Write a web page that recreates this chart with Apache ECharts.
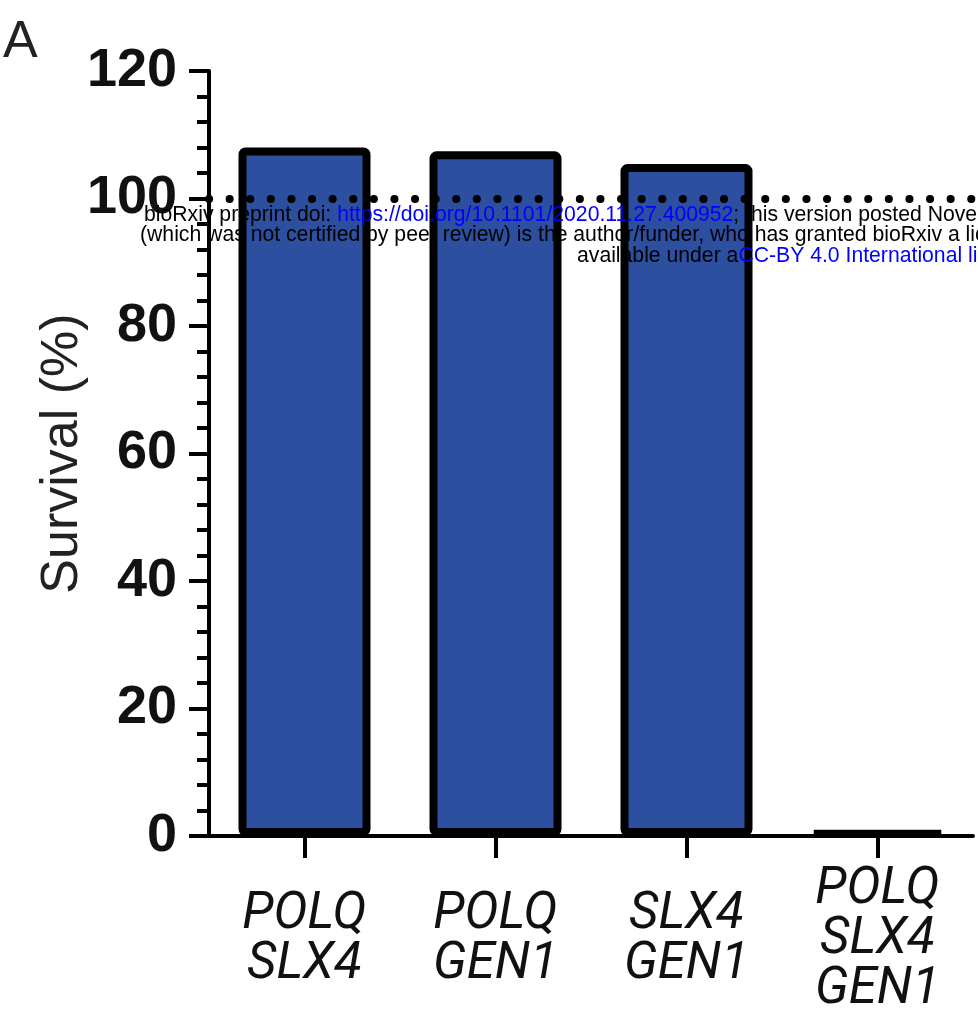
<!DOCTYPE html>
<html>
<head>
<meta charset="utf-8">
<script src="https://cdn.jsdelivr.net/npm/echarts@6/dist/echarts.min.js"></script>
<style>
html,body{margin:0;padding:0;background:#fff;}
#chart{width:978px;height:1011px;}
</style>
</head>
<body>
<div id="chart"></div>
<script>
const categories = ['POLQ\nSLX4', 'POLQ\nGEN1', 'SLX4\nGEN1', 'POLQ\nSLX4\nGEN1'];
const survival = [108.0, 107.4, 105.4, 0.7];
const referenceLevel = 100;
const yMin = 0, yMax = 120, yStep = 20;
const yTitle = 'Survival (%)';
const panelLetter = 'A';
const wmLine1 = ['bioRxiv preprint doi: ', 'https://doi.org/10.1101/2020.11.27.400952', '; this version posted November 28, 2020. The copyright holder for this preprint'];
const wmLine2 = '(which was not certified by peer review) is the author/funder, who has granted bioRxiv a license to display the preprint in perpetuity. It is made';
const wmLine3 = ['available under a', 'CC-BY 4.0 International license', '.'];

const chart = echarts.init(document.getElementById('chart'), null, {renderer: 'canvas'});
const FONT = '"Liberation Sans", Arial, sans-serif';
const wmFont = 21.2;

chart.setOption({
  animation: false,
  backgroundColor: '#fff',
  grid: {left: 209, right: 5, top: 71, bottom: 175, containLabel: false, outerBoundsMode: 'none'},
  xAxis: {
    type: 'category',
    data: categories,
    axisLine: {show: true, lineStyle: {color: '#000', width: 4}},
    axisTick: {show: true, alignWithLabel: true, length: 22, lineStyle: {color: '#000', width: 4}},
    axisLabel: {
      interval: 0,
      fontFamily: 'Roboto, ' + FONT,
      fontStyle: 'italic',
      fontSize: 51,
      lineHeight: 50,
      color: '#111',
      verticalAlign: 'middle',
      margin: 104
    },
    splitLine: {show: false}
  },
  yAxis: {
    type: 'value',
    min: yMin, max: yMax, interval: yStep,
    name: yTitle,
    nameLocation: 'middle',
    nameGap: 120,
    nameMoveOverlap: false,
    nameTextStyle: {fontFamily: FONT, fontSize: 52, color: '#222'},
    axisLine: {show: true, lineStyle: {color: '#000', width: 4}},
    axisTick: {show: true, length: 20, lineStyle: {color: '#000', width: 4}},
    minorTick: {show: true, splitNumber: 5, length: 12, lineStyle: {color: '#000', width: 4}},
    axisLabel: {fontFamily: FONT, fontWeight: 'bold', fontSize: 54, color: '#111', margin: 32},
    splitLine: {show: false},
    minorSplitLine: {show: false}
  },
  series: [{
    type: 'bar',
    data: survival,
    barWidth: 132,
    itemStyle: {color: '#2c4fa0', borderColor: '#000', borderWidth: 8, borderRadius: 3},
    markLine: {
      silent: true,
      symbol: ['none', 'none'],
      label: {show: false},
      lineStyle: {color: '#000', width: 8, type: [0.1, 20.5], cap: 'round'},
      data: [{yAxis: referenceLevel}],
      z: 10
    }
  }],
  graphic: [
    {type: 'text', left: 3, top: 17, style: {text: panelLetter, font: '52px ' + FONT, fill: '#222'}},
    {type: 'text', x: 144, y: 226, z: 100, style: {
      text: '{k|' + wmLine1[0] + '}{b|' + wmLine1[1] + '}{k|' + wmLine1[2] + '}',
      verticalAlign: 'bottom',
      rich: {k: {fontFamily: FONT, fontSize: wmFont, fill: '#000', color: '#000'}, b: {fontFamily: FONT, fontSize: wmFont, fill: '#0000ff', color: '#0000ff'}}
    }},
    {type: 'text', x: 140, y: 246, z: 100, style: {
      text: wmLine2, verticalAlign: 'bottom', font: wmFont + 'px ' + FONT, fill: '#000'
    }},
    {type: 'text', x: 577, y: 267, z: 100, style: {
      text: '{k|' + wmLine3[0] + '}{b|' + wmLine3[1] + '}{k|' + wmLine3[2] + '}',
      verticalAlign: 'bottom',
      rich: {k: {fontFamily: FONT, fontSize: wmFont, fill: '#000', color: '#000'}, b: {fontFamily: FONT, fontSize: wmFont, fill: '#0000ff', color: '#0000ff'}}
    }}
  ]
});
</script>
</body>
</html>
